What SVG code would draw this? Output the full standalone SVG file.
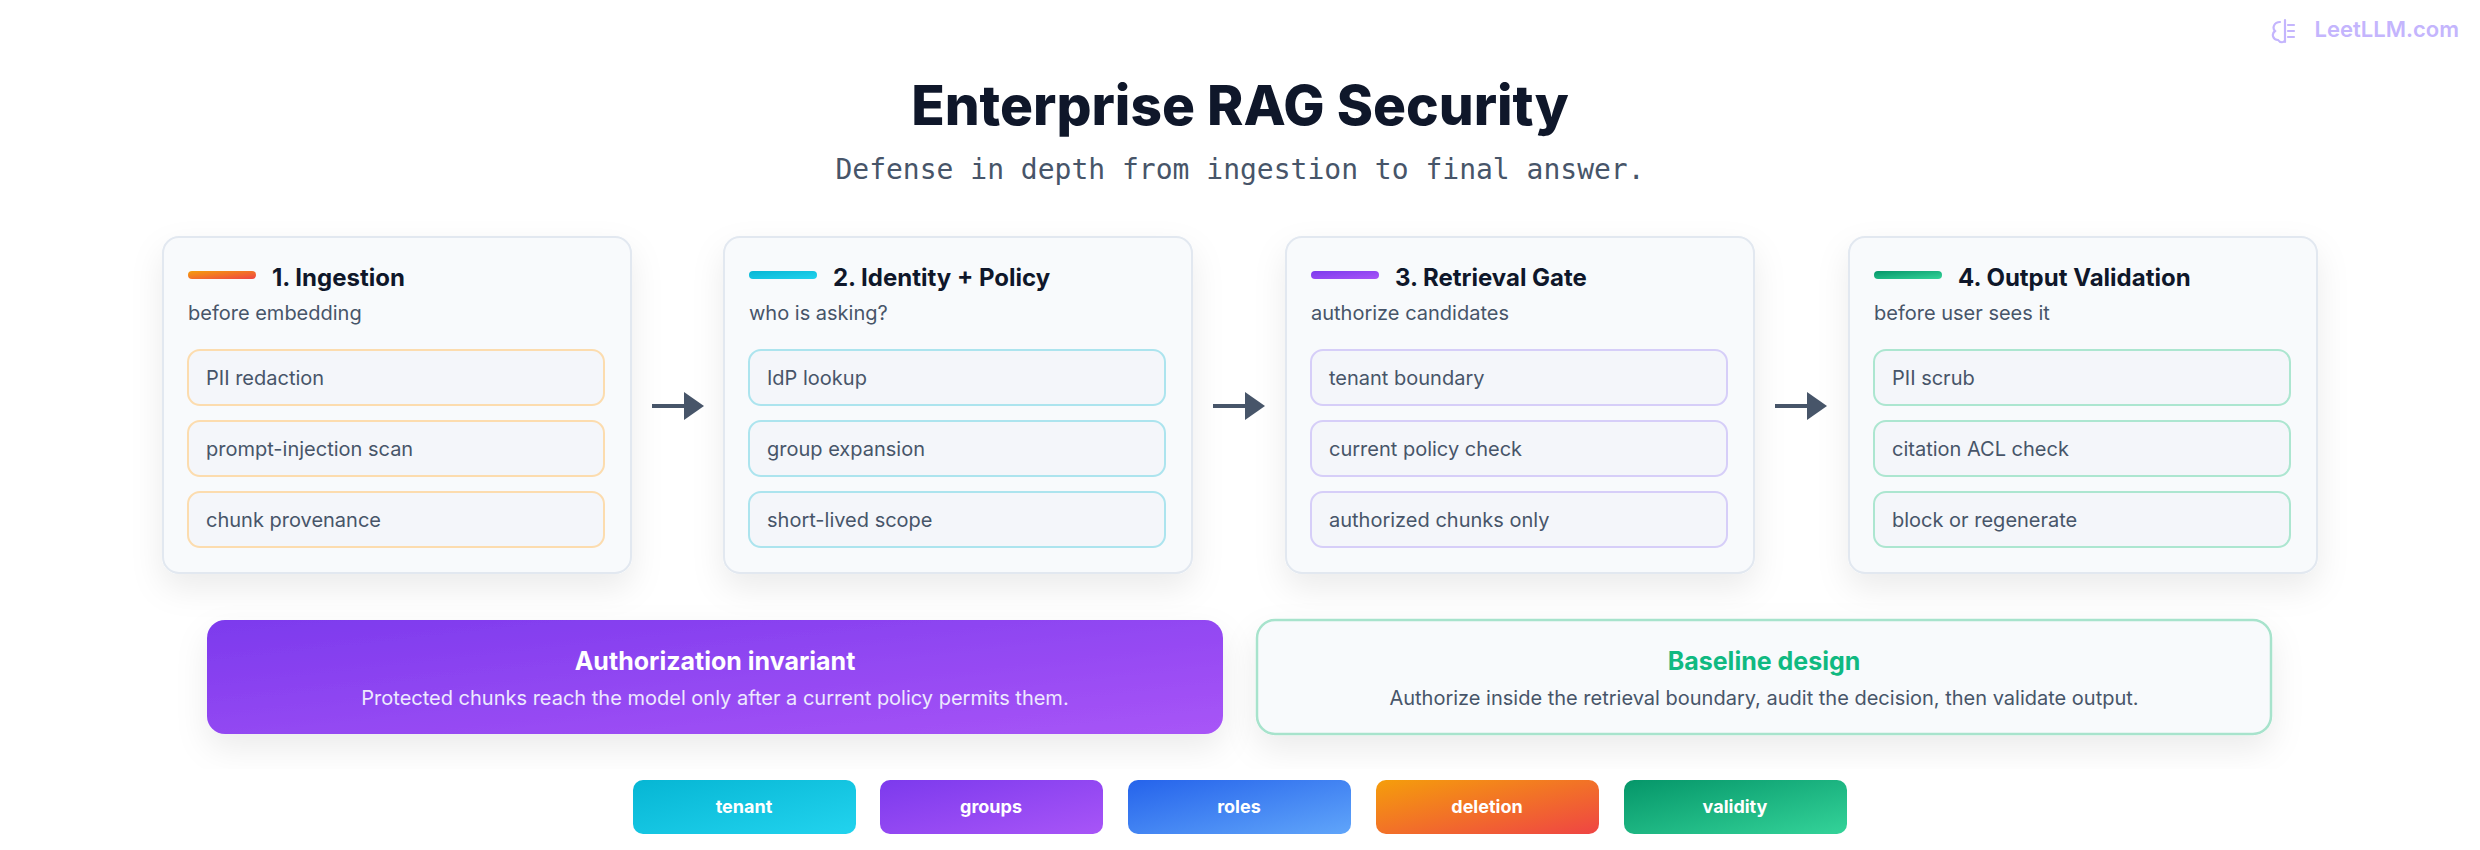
<svg xmlns="http://www.w3.org/2000/svg" width="2480" height="850" viewBox="0 0 2480 850">
<defs>
<linearGradient id="gO" x1="0" y1="0" x2="1" y2="1"><stop offset="0" stop-color="#f59e0b"/><stop offset="1" stop-color="#ef4444"/></linearGradient>
<linearGradient id="gC" x1="0" y1="0" x2="1" y2="1"><stop offset="0" stop-color="#06b6d4"/><stop offset="1" stop-color="#22d3ee"/></linearGradient>
<linearGradient id="gP" x1="0" y1="0" x2="1" y2="1"><stop offset="0" stop-color="#7c3aed"/><stop offset="1" stop-color="#a855f7"/></linearGradient>
<linearGradient id="gB" x1="0" y1="0" x2="1" y2="1"><stop offset="0" stop-color="#2563eb"/><stop offset="1" stop-color="#60a5fa"/></linearGradient>
<linearGradient id="gG" x1="0" y1="0" x2="1" y2="1"><stop offset="0" stop-color="#059669"/><stop offset="1" stop-color="#34d399"/></linearGradient>
<filter id="sh" x="-20%" y="-20%" width="140%" height="150%"><feDropShadow dx="0" dy="14" stdDeviation="16" flood-color="#0f172a" flood-opacity="0.08"/></filter>
<style>
text{font-family:Inter,"Noto Sans","Liberation Sans",sans-serif}
.card{fill:#f8fafc;stroke:#e2e8f0;stroke-width:2;filter:url(#sh)}
.ct{font-size:24px;font-weight:700;fill:#0f172a}
.cs{font-size:20px;fill:#475569}
.ib{fill:#f4f6fa;stroke-width:2}
.it{font-size:20px;fill:#475569}
.pill{font-size:18px;font-weight:700;fill:#fff;text-anchor:middle}
.conn{stroke:#475569;stroke-width:4;fill:none}
.head{fill:#475569}
</style>
</defs>
<rect width="2480" height="850" fill="#ffffff"/>
<g id="logo"><text x="2459" y="37" font-size="22" font-weight="600" fill="#c4b5fd" text-anchor="end">LeetLLM.com</text>
<path d="M2280,22 c-6,0 -8,6 -5,9 c-4,3 -2,9 3,9 c2,3 6,3 7,0 M2285,20 v22 M2288,25 h6 M2288,31 h6 M2288,37 h6" fill="none" stroke="#c4b5fd" stroke-width="2.2" stroke-linecap="round"/></g>
<text x="1240" y="125" font-size="55" font-weight="800" fill="#0f172a" text-anchor="middle">Enterprise RAG Security</text>
<text x="1240" y="179" font-size="28" fill="#475569" text-anchor="middle" style="font-family:'DejaVu Sans Mono','Liberation Mono',monospace">Defense in depth from ingestion to final answer.</text>

<g id="card1"><rect class="card" x="163" y="237" width="468" height="336" rx="16"/>
<rect x="188" y="271" width="68" height="8" rx="4" fill="url(#gO)"/>
<text class="ct" x="272" y="286">1. Ingestion</text><text class="cs" x="188" y="320">before embedding</text>
<rect class="ib" x="188" y="350" width="416" height="55" rx="12" stroke="#fcdcae"/><text class="it" x="206" y="385">PII redaction</text>
<rect class="ib" x="188" y="421" width="416" height="55" rx="12" stroke="#fcdcae"/><text class="it" x="206" y="456">prompt-injection scan</text>
<rect class="ib" x="188" y="492" width="416" height="55" rx="12" stroke="#fcdcae"/><text class="it" x="206" y="527">chunk provenance</text></g>

<g id="card2"><rect class="card" x="724" y="237" width="468" height="336" rx="16"/>
<rect x="749" y="271" width="68" height="8" rx="4" fill="url(#gC)"/>
<text class="ct" x="833" y="286">2. Identity + Policy</text><text class="cs" x="749" y="320">who is asking?</text>
<rect class="ib" x="749" y="350" width="416" height="55" rx="12" stroke="#ace4ee"/><text class="it" x="767" y="385">IdP lookup</text>
<rect class="ib" x="749" y="421" width="416" height="55" rx="12" stroke="#ace4ee"/><text class="it" x="767" y="456">group expansion</text>
<rect class="ib" x="749" y="492" width="416" height="55" rx="12" stroke="#ace4ee"/><text class="it" x="767" y="527">short-lived scope</text></g>

<g id="card3"><rect class="card" x="1286" y="237" width="468" height="336" rx="16"/>
<rect x="1311" y="271" width="68" height="8" rx="4" fill="url(#gP)"/>
<text class="ct" x="1395" y="286">3. Retrieval Gate</text><text class="cs" x="1311" y="320">authorize candidates</text>
<rect class="ib" x="1311" y="350" width="416" height="55" rx="12" stroke="#d6cef8"/><text class="it" x="1329" y="385">tenant boundary</text>
<rect class="ib" x="1311" y="421" width="416" height="55" rx="12" stroke="#d6cef8"/><text class="it" x="1329" y="456">current policy check</text>
<rect class="ib" x="1311" y="492" width="416" height="55" rx="12" stroke="#d6cef8"/><text class="it" x="1329" y="527">authorized chunks only</text></g>

<g id="card4"><rect class="card" x="1849" y="237" width="468" height="336" rx="16"/>
<rect x="1874" y="271" width="68" height="8" rx="4" fill="url(#gG)"/>
<text class="ct" x="1958" y="286">4. Output Validation</text><text class="cs" x="1874" y="320">before user sees it</text>
<rect class="ib" x="1874" y="350" width="416" height="55" rx="12" stroke="#ace6d0"/><text class="it" x="1892" y="385">PII scrub</text>
<rect class="ib" x="1874" y="421" width="416" height="55" rx="12" stroke="#ace6d0"/><text class="it" x="1892" y="456">citation ACL check</text>
<rect class="ib" x="1874" y="492" width="416" height="55" rx="12" stroke="#ace6d0"/><text class="it" x="1892" y="527">block or regenerate</text></g>

<g id="connectors">
<line class="conn" x1="652" y1="406" x2="686" y2="406"/><path class="head" d="M684,392 L704,406 L684,420 Z"/>
<line class="conn" x1="1213" y1="406" x2="1247" y2="406"/><path class="head" d="M1245,392 L1265,406 L1245,420 Z"/>
<line class="conn" x1="1775" y1="406" x2="1809" y2="406"/><path class="head" d="M1807,392 L1827,406 L1807,420 Z"/>
</g>

<g id="invariant"><rect x="207" y="620" width="1016" height="114" rx="18" fill="url(#gP)" filter="url(#sh)"/>
<text x="715" y="670" font-size="25" font-weight="700" fill="#fff" text-anchor="middle">Authorization invariant</text>
<text x="715" y="705" font-size="20" fill="#ede9fe" text-anchor="middle">Protected chunks reach the model only after a current policy permits them.</text></g>
<g id="baseline"><rect x="1257" y="620" width="1014" height="114" rx="18" fill="#f8fafc" stroke="#a7e3cc" stroke-width="2.5" filter="url(#sh)"/>
<text x="1764" y="670" font-size="25" font-weight="700" fill="#10b981" text-anchor="middle">Baseline design</text>
<text x="1764" y="705" font-size="20" fill="#475569" text-anchor="middle">Authorize inside the retrieval boundary, audit the decision, then validate output.</text></g>

<g id="pill-tenant"><rect x="633" y="780" width="223" height="54" rx="10" fill="url(#gC)"/><text class="pill" x="744" y="813">tenant</text></g>
<g id="pill-groups"><rect x="880" y="780" width="223" height="54" rx="10" fill="url(#gP)"/><text class="pill" x="991" y="813">groups</text></g>
<g id="pill-roles"><rect x="1128" y="780" width="223" height="54" rx="10" fill="url(#gB)"/><text class="pill" x="1239" y="813">roles</text></g>
<g id="pill-deletion"><rect x="1376" y="780" width="223" height="54" rx="10" fill="url(#gO)"/><text class="pill" x="1487" y="813">deletion</text></g>
<g id="pill-validity"><rect x="1624" y="780" width="223" height="54" rx="10" fill="url(#gG)"/><text class="pill" x="1735" y="813">validity</text></g>
</svg>
